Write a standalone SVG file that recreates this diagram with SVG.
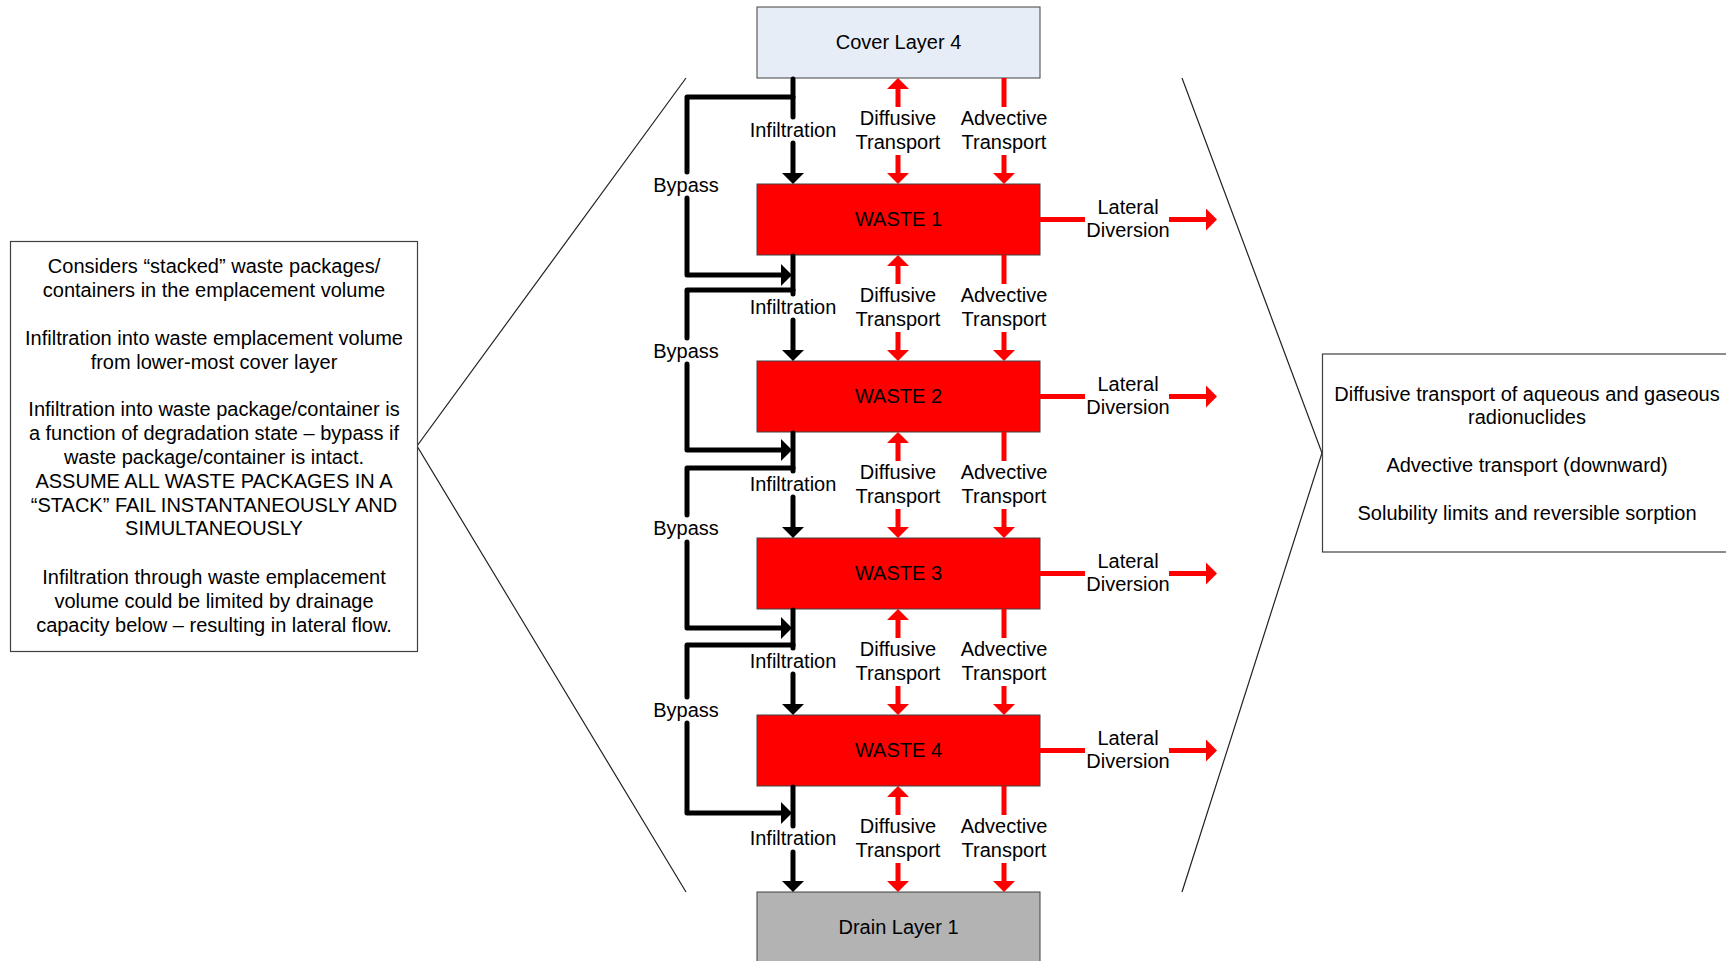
<svg xmlns="http://www.w3.org/2000/svg" width="1726" height="961" viewBox="0 0 1726 961">
<style>
text{font-family:"Liberation Sans",Arial,sans-serif;font-size:20px;fill:#000;text-anchor:middle}
.box{stroke:#404040;stroke-width:1}
.note{fill:#fff;stroke:#404040;stroke-width:1.2}
.blk{fill:none;stroke:#000;stroke-width:5;stroke-linecap:round;stroke-linejoin:round}
.red{fill:none;stroke:#f00;stroke-width:5}
.thin{fill:none;stroke:#222;stroke-width:1.2}
</style>
<defs>
<marker id="ahb" viewBox="0 0 11 22" refX="0" refY="11" markerWidth="11" markerHeight="22" markerUnits="userSpaceOnUse" orient="auto"><path d="M0,0 L11,11 L0,22 Z" fill="#000"/></marker>
<marker id="ahr" viewBox="0 0 11 22" refX="0" refY="11" markerWidth="11" markerHeight="22" markerUnits="userSpaceOnUse" orient="auto"><path d="M0,0 L11,11 L0,22 Z" fill="#f00"/></marker>
</defs>
<rect width="1726" height="961" fill="#fff"/>

<g id="chevrons">
<polyline class="thin" points="686,78 417,446 686,892"/>
<polyline class="thin" points="1182,78 1322,453 1182,892"/>
</g>

<g id="note-left">
<rect class="note" x="10.5" y="241.5" width="407" height="410"/>
<text x="214" y="272.5">Considers “stacked” waste packages/</text>
<text x="214" y="296.5">containers in the emplacement volume</text>
<text x="214" y="344.5">Infiltration into waste emplacement volume</text>
<text x="214" y="368.5">from lower-most cover layer</text>
<text x="214" y="416">Infiltration into waste package/container is</text>
<text x="214" y="440">a function of degradation state – bypass if</text>
<text x="214" y="464">waste package/container is intact.</text>
<text x="214" y="487.5">ASSUME ALL WASTE PACKAGES IN A</text>
<text x="214" y="511.5">“STACK” FAIL INSTANTANEOUSLY AND</text>
<text x="214" y="535">SIMULTANEOUSLY</text>
<text x="214" y="583.5">Infiltration through waste emplacement</text>
<text x="214" y="607.5">volume could be limited by drainage</text>
<text x="214" y="631.5">capacity below – resulting in lateral flow.</text>
</g>

<g id="note-right">
<rect class="note" x="1322.5" y="354" width="412" height="198"/>
<text x="1527" y="401">Diffusive transport of aqueous and gaseous</text>
<text x="1527" y="423.5">radionuclides</text>
<text x="1527" y="471.5">Advective transport (downward)</text>
<text x="1527" y="520">Solubility limits and reversible sorption</text>
</g>

<g id="cover4">
<rect class="box" x="757" y="7" width="283" height="71" fill="#E6EDF7"/>
<text x="898.5" y="49.2">Cover Layer 4</text>
</g>
<g id="waste1">
<rect class="box" x="757" y="184" width="283" height="71" fill="#f00"/>
<text x="898.5" y="226">WASTE 1</text>
</g>
<g id="waste2">
<rect class="box" x="757" y="361" width="283" height="71" fill="#f00"/>
<text x="898.5" y="403">WASTE 2</text>
</g>
<g id="waste3">
<rect class="box" x="757" y="538" width="283" height="71" fill="#f00"/>
<text x="898.5" y="580">WASTE 3</text>
</g>
<g id="waste4">
<rect class="box" x="757" y="715" width="283" height="71" fill="#f00"/>
<text x="898.5" y="757">WASTE 4</text>
</g>
<g id="drain1">
<rect class="box" x="757" y="892" width="283" height="75" fill="#B3B3B3"/>
<text x="898.5" y="933.5">Drain Layer 1</text>
</g>

<g id="connectors">
<path class="blk" d="M793,79 V117"/><path class="blk" d="M793,143 V173" marker-end="url(#ahb)"/>
<path class="blk" d="M793,256 V294"/><path class="blk" d="M793,320 V350" marker-end="url(#ahb)"/>
<path class="blk" d="M793,433 V471"/><path class="blk" d="M793,497 V527" marker-end="url(#ahb)"/>
<path class="blk" d="M793,610 V648"/><path class="blk" d="M793,674 V704" marker-end="url(#ahb)"/>
<path class="blk" d="M793,787 V826"/><path class="blk" d="M793,852 V881" marker-end="url(#ahb)"/>
<path class="blk" d="M793,97 H687 V172"/><path class="blk" d="M687,198 V275 H781" marker-end="url(#ahb)"/>
<path class="blk" d="M793,290 H687 V338"/><path class="blk" d="M687,364 V450 H781" marker-end="url(#ahb)"/>
<path class="blk" d="M793,468 H687 V515"/><path class="blk" d="M687,542 V628 H781" marker-end="url(#ahb)"/>
<path class="blk" d="M793,645 H687 V697"/><path class="blk" d="M687,723 V813 H781" marker-end="url(#ahb)"/>
<path class="red" d="M898,107 V89" marker-end="url(#ahr)"/><path class="red" d="M898,155 V173" marker-end="url(#ahr)"/>
<path class="red" d="M898,284 V266" marker-end="url(#ahr)"/><path class="red" d="M898,332 V350" marker-end="url(#ahr)"/>
<path class="red" d="M898,461 V443" marker-end="url(#ahr)"/><path class="red" d="M898,509 V527" marker-end="url(#ahr)"/>
<path class="red" d="M898,638 V620" marker-end="url(#ahr)"/><path class="red" d="M898,686 V704" marker-end="url(#ahr)"/>
<path class="red" d="M898,815 V797" marker-end="url(#ahr)"/><path class="red" d="M898,863 V881" marker-end="url(#ahr)"/>
<path class="red" d="M1004,78 V107"/><path class="red" d="M1004,155 V173" marker-end="url(#ahr)"/>
<path class="red" d="M1004,255 V284"/><path class="red" d="M1004,332 V350" marker-end="url(#ahr)"/>
<path class="red" d="M1004,432 V461"/><path class="red" d="M1004,509 V527" marker-end="url(#ahr)"/>
<path class="red" d="M1004,609 V638"/><path class="red" d="M1004,686 V704" marker-end="url(#ahr)"/>
<path class="red" d="M1004,786 V815"/><path class="red" d="M1004,863 V881" marker-end="url(#ahr)"/>
<path class="red" d="M1040,219.5 H1085"/><path class="red" d="M1169,219.5 H1206" marker-end="url(#ahr)"/>
<path class="red" d="M1040,396.5 H1085"/><path class="red" d="M1169,396.5 H1206" marker-end="url(#ahr)"/>
<path class="red" d="M1040,573.5 H1085"/><path class="red" d="M1169,573.5 H1206" marker-end="url(#ahr)"/>
<path class="red" d="M1040,750.5 H1085"/><path class="red" d="M1169,750.5 H1206" marker-end="url(#ahr)"/>
</g>

<g id="connector-labels">
<text x="793" y="136.5">Infiltration</text>
<text x="793" y="313.5">Infiltration</text>
<text x="793" y="490.5">Infiltration</text>
<text x="793" y="667.5">Infiltration</text>
<text x="793" y="844.5">Infiltration</text>
<text x="686" y="191.5">Bypass</text>
<text x="686" y="357.5">Bypass</text>
<text x="686" y="534.5">Bypass</text>
<text x="686" y="716.5">Bypass</text>
<text x="898" y="124.5">Diffusive</text><text x="898" y="149">Transport</text>
<text x="898" y="301.5">Diffusive</text><text x="898" y="326">Transport</text>
<text x="898" y="478.5">Diffusive</text><text x="898" y="503">Transport</text>
<text x="898" y="655.5">Diffusive</text><text x="898" y="680">Transport</text>
<text x="898" y="832.5">Diffusive</text><text x="898" y="857">Transport</text>
<text x="1004" y="124.5">Advective</text><text x="1004" y="149">Transport</text>
<text x="1004" y="301.5">Advective</text><text x="1004" y="326">Transport</text>
<text x="1004" y="478.5">Advective</text><text x="1004" y="503">Transport</text>
<text x="1004" y="655.5">Advective</text><text x="1004" y="680">Transport</text>
<text x="1004" y="832.5">Advective</text><text x="1004" y="857">Transport</text>
<text x="1128" y="213.5">Lateral</text><text x="1128" y="237">Diversion</text>
<text x="1128" y="390.5">Lateral</text><text x="1128" y="414">Diversion</text>
<text x="1128" y="567.5">Lateral</text><text x="1128" y="591">Diversion</text>
<text x="1128" y="744.5">Lateral</text><text x="1128" y="768">Diversion</text>
</g>
</svg>
